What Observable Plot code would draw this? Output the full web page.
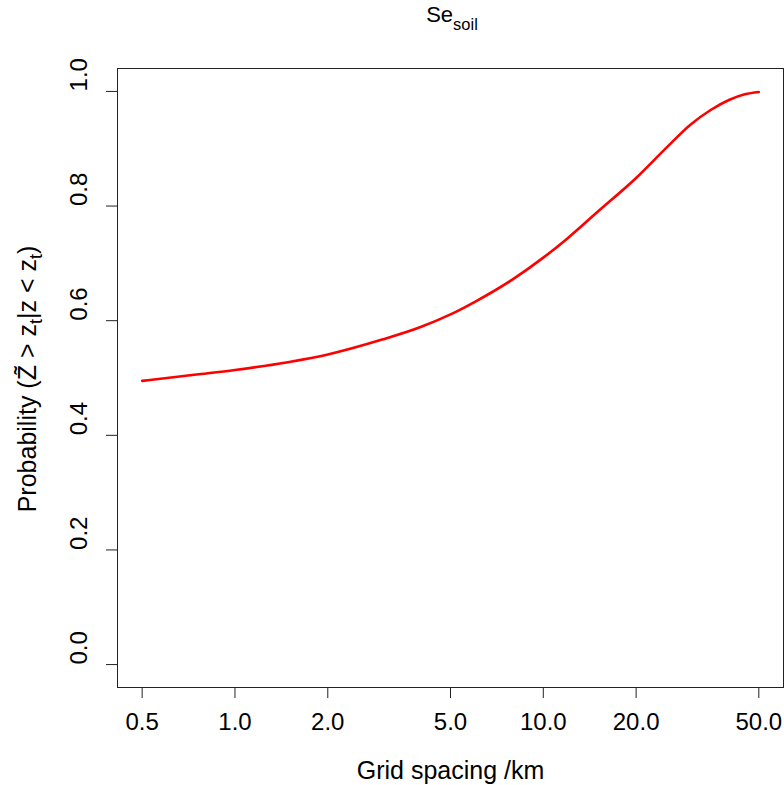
<!DOCTYPE html>
<html><head><meta charset="utf-8">
<script src="https://cdn.jsdelivr.net/npm/d3@7"></script>
<script src="https://cdn.jsdelivr.net/npm/@observablehq/plot@0.6"></script>
<style>
body{margin:0;background:#fff;}
#chart svg{display:block;}
</style>
</head><body><div id="chart"></div>
<script>
// Data
const spacing = [0.5, 0.75, 1, 1.5, 2, 3, 4, 5, 6, 8, 10, 12, 15, 20, 25, 30, 35, 40, 45, 50];
const prob    = [0.495, 0.506, 0.514, 0.528, 0.541, 0.567, 0.589, 0.611, 0.633, 0.673, 0.710, 0.744, 0.790, 0.849, 0.901, 0.942, 0.968, 0.985, 0.995, 0.999];
const xTicks = [0.5, 1, 2, 5, 10, 20, 50];
const yTicks = [0, 0.2, 0.4, 0.6, 0.8, 1.0];
const titleMain = "Se", titleSub = "soil";
const xLabel = "Grid spacing /km";
const yLabelParts = [["Probability (Z\u0303 > z", false], ["t", true], ["|z < z", false], ["t", true], [")", false]];

const FONT = '"Liberation Sans", Arial, Helvetica, sans-serif';
const data = spacing.map((x, i) => ({x, y: prob[i]}));

const plot = Plot.plot({
  width: 784, height: 785,
  marginLeft: 117, marginRight: 1, marginTop: 68, marginBottom: 98,
  style: {fontFamily: FONT, fontSize: "24px", color: "black", background: "white", overflow: "visible"},
  x: {type: "log", domain: [Math.pow(10, -0.381), Math.pow(10, 1.779)]},
  y: {domain: [-0.04, 1.04]},
  marks: [
    Plot.frame({stroke: "#222", strokeWidth: 1}),
    Plot.axisX({ticks: xTicks, tickFormat: d => d.toFixed(1), tickSize: 11, tickPadding: 14, label: null, fontSize: 24, stroke: "#222"}),
    Plot.axisY({ticks: yTicks, tickFormat: () => "", tickSize: 11, label: null, stroke: "#222"}),
    Plot.text(yTicks, {y: d => d, text: d => d.toFixed(1), frameAnchor: "left", dx: -38, rotate: -90, fontSize: 24, fill: "black"}),
    Plot.line(data, {x: "x", y: "y", stroke: "red", strokeWidth: 2.6, curve: "monotone-x"})
  ]
});

const svg = d3.select(plot);
const t = svg.append("text")
  .attr("x", 452).attr("y", 22).attr("text-anchor", "middle")
  .attr("font-family", FONT).attr("font-size", 22).attr("fill", "black");
t.append("tspan").text(titleMain);
t.append("tspan").attr("font-size", 16.5).attr("dy", 8).text(titleSub);

svg.append("text")
  .attr("x", 450.5).attr("y", 779).attr("text-anchor", "middle")
  .attr("font-family", FONT).attr("font-size", 25).attr("fill", "black")
  .text(xLabel);

const yl = svg.append("text")
  .attr("transform", "translate(36,379) rotate(-90)")
  .attr("text-anchor", "middle")
  .attr("font-family", FONT).attr("font-size", 25).attr("fill", "black");
let shifted = false;
for (const [s, sub] of yLabelParts) {
  const ts = yl.append("tspan").text(s);
  if (sub && !shifted) { ts.attr("font-size", 18).attr("dy", 6); shifted = true; }
  else if (!sub && shifted) { ts.attr("dy", -6); shifted = false; }
}

document.getElementById("chart").appendChild(plot);
</script>
</body></html>
